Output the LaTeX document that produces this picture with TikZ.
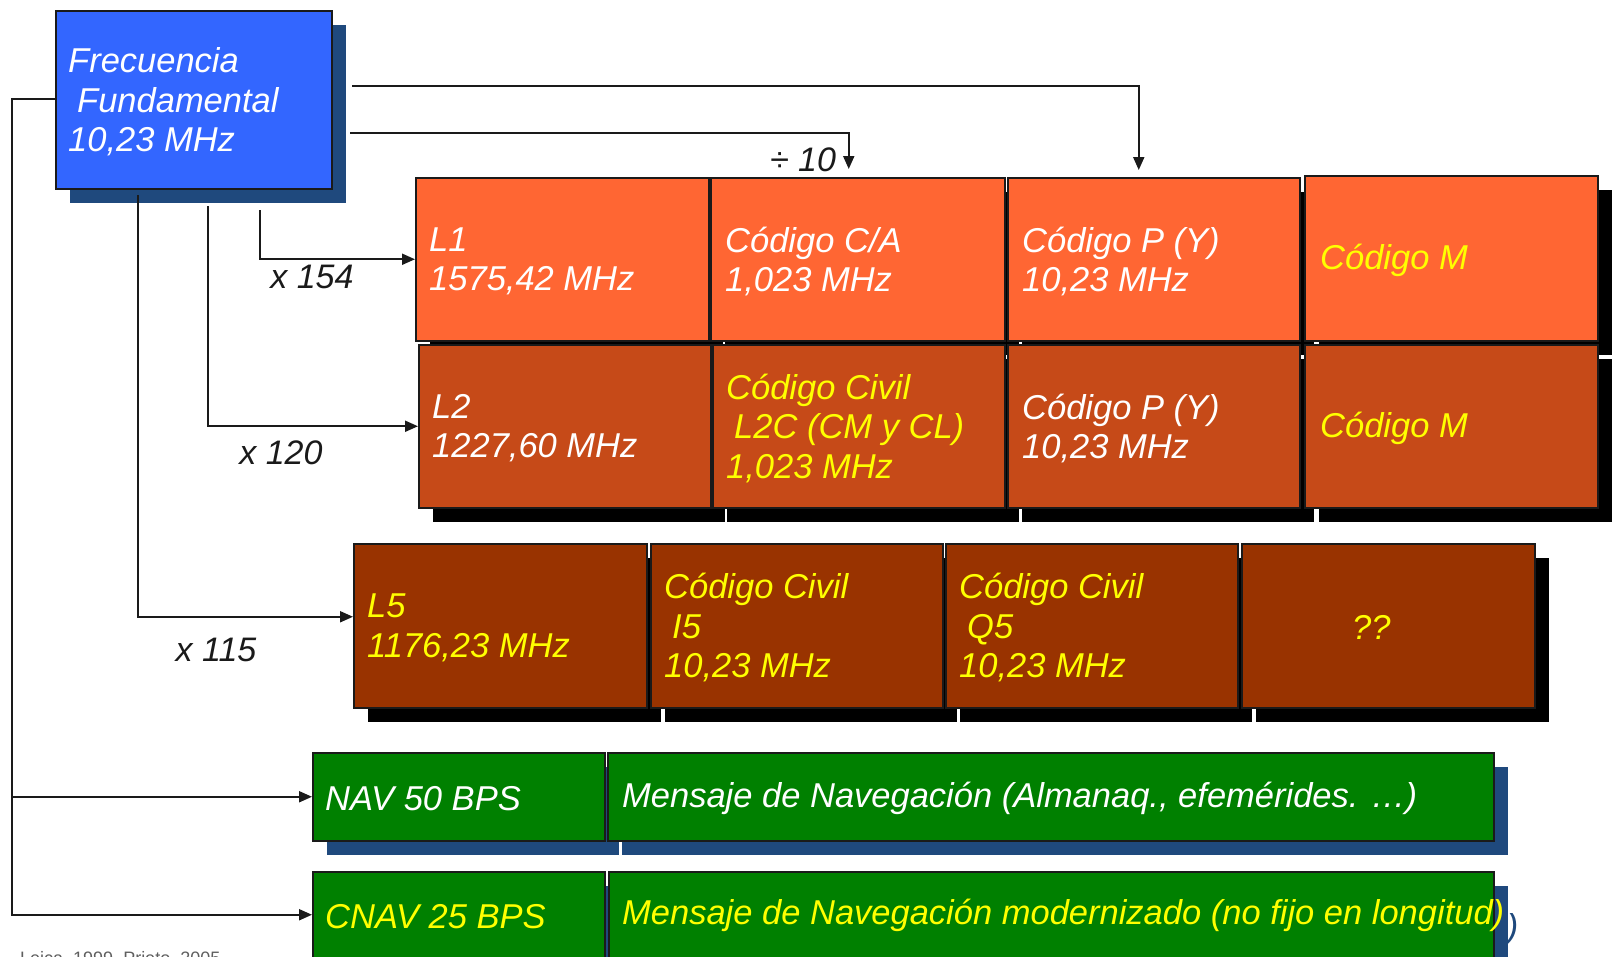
\documentclass[tikz,border=0pt]{standalone}
\usepackage{fontspec}
\setmainfont{Liberation Sans}
\usetikzlibrary{arrows.meta,shadows}
\definecolor{fblue}{HTML}{3366FF}
\definecolor{sblue}{HTML}{1F497D}
\definecolor{orA}{HTML}{FF6633}
\definecolor{orB}{HTML}{C64A18}
\definecolor{orC}{HTML}{993300}
\definecolor{grn}{HTML}{008000}
\definecolor{yl}{HTML}{FFFF00}
\definecolor{ln}{HTML}{1A1A1A}
\tikzset{
  box/.style={draw=ln, line width=1.5pt, inner sep=0pt, anchor=north west},
  blkshadow/.style={drop shadow={shadow xshift=14pt, shadow yshift=-14pt, fill=black, opacity=1}},
  blushadow/.style={drop shadow={shadow xshift=14pt, shadow yshift=-14pt, fill=sblue, opacity=1}},
  txt/.style={font=\fontsize{34.5}{39.5}\selectfont\itshape, align=left, anchor=west, inner sep=0pt, yshift=-2pt},
  wt/.style={txt, text=white},
  yt/.style={txt, text=yl},
  lbl/.style={font=\fontsize{34}{39}\selectfont\itshape, text=ln, inner sep=0pt},
  conn/.style={draw=ln, line width=2pt},
  arr/.style={conn, -{Triangle[length=13pt,width=11pt]}},
}
\newcommand\mkcell[6]{\node[box,#6,minimum width={(#4-#2)*1pt},minimum height={(#5-#3)*1pt}] (#1) at (#2,#3) {};}
\begin{document}
\begin{tikzpicture}[x=1pt,y=-1pt]
\useasboundingbox (0,0) rectangle (1614,956);
% fundamental frequency box
\mkcell{fb}{55}{10}{331}{188}{fill=fblue,blushadow,line width=2pt}
\node[wt] (fbt) at ([xshift=13pt]fb.west) {Frecuencia\\\hspace{9pt}Fundamental\\10,23 MHz};
% L1 row
\mkcell{l1}{415}{177}{708}{340}{fill=orA,blkshadow}
\mkcell{ca}{710}{177}{1004}{340}{fill=orA,blkshadow}
\mkcell{pa}{1007}{177}{1299}{340}{fill=orA,blkshadow}
\mkcell{ma}{1304}{175}{1597}{340}{fill=orA,blkshadow}
% L2 row
\mkcell{l2}{418}{344}{710}{507}{fill=orB,blkshadow}
\mkcell{cb}{712}{344}{1004}{507}{fill=orB,blkshadow}
\mkcell{pb}{1007}{344}{1299}{507}{fill=orB,blkshadow}
\mkcell{mb}{1304}{344}{1597}{507}{fill=orB,blkshadow}
% L5 row
\mkcell{l5}{353}{543}{646}{707}{fill=orC,blkshadow}
\mkcell{i5}{650}{543}{942}{707}{fill=orC,blkshadow}
\mkcell{q5}{945}{543}{1237}{707}{fill=orC,blkshadow}
\mkcell{qq}{1241}{543}{1534}{707}{fill=orC,blkshadow}
% NAV rows
\mkcell{nav}{312}{752}{604}{840}{fill=grn,blushadow}
\mkcell{navm}{607}{752}{1493}{840}{fill=grn,blushadow}
\mkcell{cnav}{312}{871}{604}{957}{fill=grn,blushadow}
\mkcell{cnavm}{608}{871}{1493}{957}{fill=grn,blushadow}
% texts
\node[wt] at ([xshift=14pt]l1.west) {L1\\1575,42 MHz};
\node[wt] at ([xshift=15pt]ca.west) {Código C/A\\1,023 MHz};
\node[wt] at ([xshift=15pt]pa.west) {Código P (Y)\\10,23 MHz};
\node[yt] at ([xshift=16pt]ma.west) {Código M};
\node[wt] at ([xshift=14pt]l2.west) {L2\\1227,60 MHz};
\node[yt] at ([xshift=14pt]cb.west) {Código Civil\\\hspace{8pt}L2C (CM y CL)\\1,023 MHz};
\node[wt] at ([xshift=15pt]pb.west) {Código P (Y)\\10,23 MHz};
\node[yt] at ([xshift=16pt]mb.west) {Código M};
\node[yt] at ([xshift=14pt]l5.west) {L5\\1176,23 MHz};
\node[yt] at ([xshift=14pt]i5.west) {Código Civil\\\hspace{8pt}I5\\10,23 MHz};
\node[yt] at ([xshift=14pt]q5.west) {Código Civil\\\hspace{8pt}Q5\\10,23 MHz};
\node[yt,anchor=center] at ([xshift=-17pt]qq.center) {??};
\node[wt] at ([xshift=13pt]nav.west) {NAV 50 BPS};
\node[wt] at ([xshift=15pt]navm.west) {Mensaje de Navegación (Almanaq., efemérides. …)};
\node[yt] at ([xshift=13pt]cnav.west) {CNAV 25 BPS};
\node[yt] (cnavt) at ([xshift=14pt,yshift=1pt]cnavm.west) {Mensaje de Navegación modernizado (no fijo en longitud)};
\node[txt,text=sblue,anchor=east,yshift=0pt] at ([xshift=14pt,yshift=-12pt]cnavt.east) {)};
% connectors
\coordinate (trunk) at (12,99);
\coordinate (b1) at (138,195);
\coordinate (b2) at (208,206);
\coordinate (b3) at (260,210);
\coordinate (t1) at (352,86);
\coordinate (t2) at (350,133);
\draw[arr] (fb.west |- trunk) -- (trunk) |- (cnav.west);
\draw[arr] (trunk |- nav.west) -- (nav.west);
\draw[arr] (b3) |- (l1.west);
\draw[arr] (b2) |- (l2.west);
\draw[arr] (b1) |- ([yshift=9pt]l5.west);
\draw[arr,shorten >=7pt] (t1) -| ([xshift=-15pt]pa.north);
\draw[arr,shorten >=8pt] (t2) -| ([xshift=-9pt]ca.north);
% labels
\node[lbl] (x154) at (312,277) {x 154};
\node[lbl] (x120) at (281,453) {x 120};
\node[lbl] (x115) at (216,650) {x 115};
\node[lbl] (div) at (803,160) {÷ 10};
\node[font=\fontsize{18}{20}\selectfont, text=ln!70, inner sep=0pt, anchor=north west] (src) at (20,951) {Leica, 1999, Prieto, 2005};
\end{tikzpicture}
\end{document}
